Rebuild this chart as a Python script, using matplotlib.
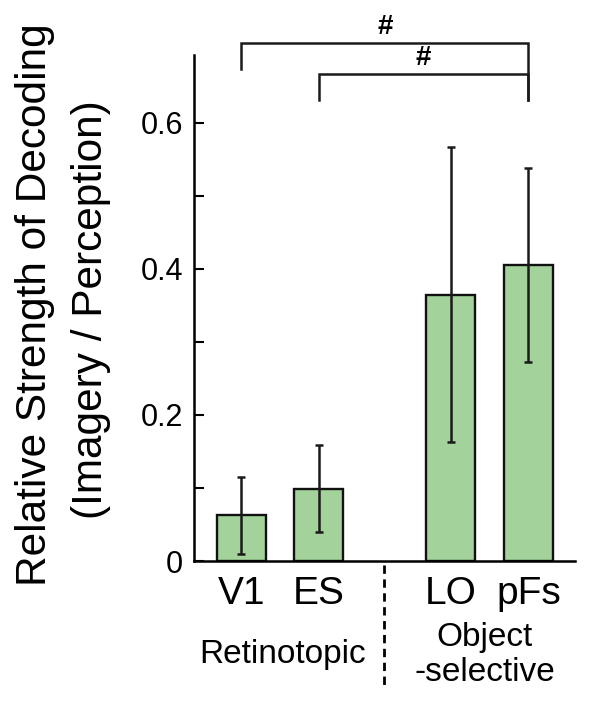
import numpy as np
import matplotlib
matplotlib.use('Agg')
import matplotlib.pyplot as plt

plt.rcParams['font.family'] = ['Liberation Sans', 'DejaVu Sans']

# bar data
regions = ['V1', 'ES', 'LO', 'pFs']
positions = [0, 1, 2.7, 3.7]
strength = [0.063, 0.099, 0.364, 0.405]
err_lo = [0.053, 0.059, 0.201, 0.133]
err_hi = [0.052, 0.060, 0.203, 0.133]
yticks = [0, 0.2, 0.4, 0.6]
ytick_labels = ['0', '0.2', '0.4', '0.6']

fig = plt.figure(figsize=(5.92, 7.08), dpi=100)
ax = fig.add_axes([0.3277, 0.2076, 0.6436, 0.7147])

ax.bar(positions, strength, width=0.63, color='#a3d29b', edgecolor='#111111',
       linewidth=1.7, zorder=2)
ax.errorbar(positions, strength, yerr=[err_lo, err_hi], fmt='none',
            ecolor='#1a1a1a', elinewidth=1.8, capsize=3, capthick=1.8, zorder=3)

ax.set_xlim(-0.61, 4.30)
ax.set_ylim(0, 0.693)
ax.set_yticks(yticks)
ax.set_yticklabels(ytick_labels, fontsize=22)
ax.set_yticks([0.1, 0.3, 0.5], minor=True)
ax.tick_params(axis='y', which='both', direction='in', length=7, width=1.5, pad=8)
ax.set_xticks(positions)
ax.set_xticklabels(regions, fontsize=28)
ax.tick_params(axis='x', length=0, pad=11)
for s in ['top', 'right']:
    ax.spines[s].set_visible(False)
for s in ['left', 'bottom']:
    ax.spines[s].set_linewidth(1.8)

# significance brackets
def bracket(x1, x2, y, y1, y2, label, lx):
    ax.plot([x1, x1, x2, x2], [y1, y, y, y2], color='#1a1a1a', lw=1.8,
            clip_on=False, solid_joinstyle='miter')
    ax.text(lx, y + 0.004, label, ha='center', va='bottom', fontsize=20,
            fontweight='bold')

bracket(positions[0], positions[3], 0.710, 0.674, 0.631, '#', 1.85)
bracket(positions[1], positions[3], 0.667, 0.632, 0.631, '#', 2.35)

# divider between groups
ax.plot([1.84, 1.84], [-0.005, -0.177], color='black', lw=2,
        ls=(0, (3, 2)), clip_on=False)

fig.text(283 / 592, 1 - 655 / 708, 'Retinotopic', ha='center', va='center',
         fontsize=24)
fig.text(485 / 592, 1 - 655 / 708, 'Object\n-selective', ha='center',
         va='center', fontsize=24, linespacing=1.15)

fig.text(35 / 592, 1 - 305 / 708, 'Relative Strength of Decoding', rotation=90,
         ha='center', va='center', fontsize=30.5)
fig.text(91 / 592, 1 - 310 / 708, '(Imagery / Perception)', rotation=90,
         ha='center', va='center', fontsize=30.5)

fig.savefig('out.png', dpi=100)
